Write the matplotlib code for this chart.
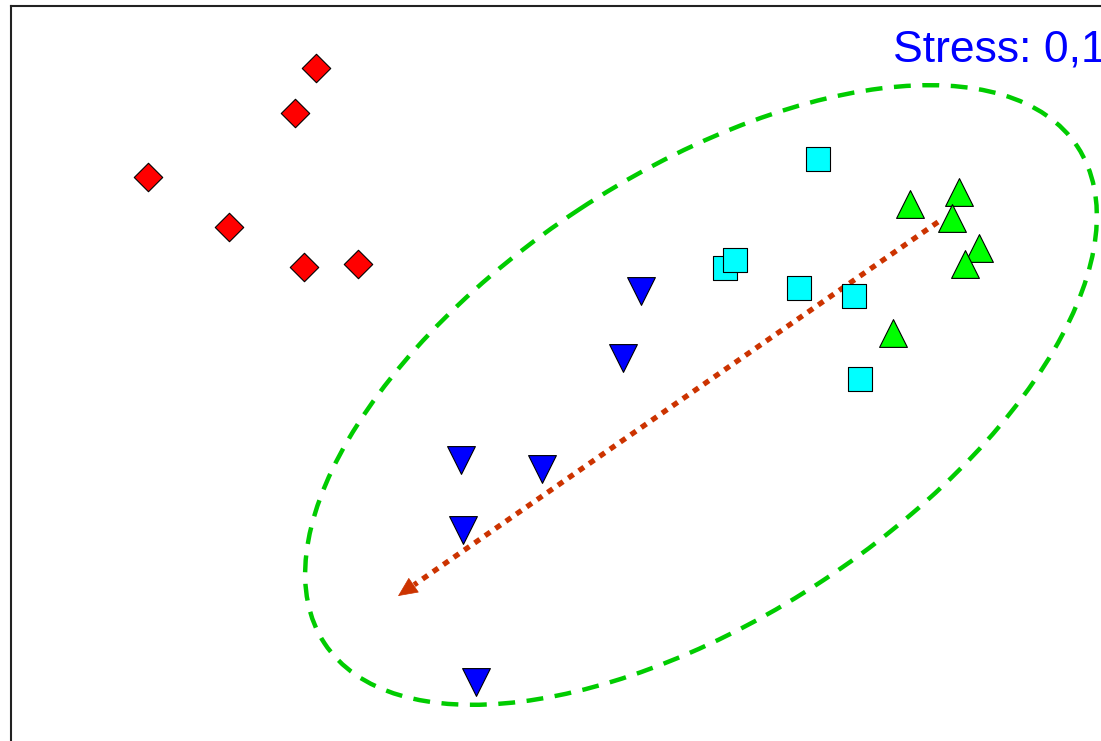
import matplotlib.pyplot as plt
from matplotlib.patches import Ellipse

# NMDS 좌표 (그림 픽셀 기준으로 읽은 값, y는 아래로 증가)
grp_red_x = [316, 295, 148, 229, 304, 358]
grp_red_y = [68, 113, 177, 227, 267, 264]

grp_cyan_x = [818, 725, 735, 799, 854, 860]
grp_cyan_y = [159, 268, 260, 288, 296, 379]

grp_green_x = [910, 959, 952, 979, 965, 893]
grp_green_y = [204, 192, 218, 248, 264, 333]

grp_blue_x = [641, 623, 461, 542, 463, 476]
grp_blue_y = [291, 358, 460, 469, 530, 682]

# 신뢰 타원 (중심, 장축, 단축, 각도)
ell_center = (701, 395)
ell_width = 902
ell_height = 444
ell_angle = -33.4

# 화살표 시작/끝
arrow_start = (938, 222)
arrow_end = (398, 596)

stress_label = 'Stress: 0,1'

W, H = 1101, 741
fig = plt.figure(figsize=(W / 100, H / 100), dpi=100)
# 오른쪽/아래 테두리는 그림 밖으로 잘리도록 배치
ax = fig.add_axes([10.5 / W, -0.02, 1.0, 1 - 6 / H + 0.02])
ax.set_xlim(10.5, 10.5 + W)
ax.set_ylim(741 + 0.02 * 741, 6)
ax.set_xticks([])
ax.set_yticks([])
for side in ['left', 'top']:
    ax.spines[side].set_linewidth(1.5)
    ax.spines[side].set_color('#222222')

ell = Ellipse(ell_center, ell_width, ell_height, angle=ell_angle, fill=False,
              edgecolor='#00CC00', linewidth=3.2, linestyle=(0, (3.8, 2.6)), zorder=1)
ax.add_patch(ell)

# 점선 부분
fx = arrow_end[0] + (arrow_start[0] - arrow_end[0]) * 0.03
fy = arrow_end[1] + (arrow_start[1] - arrow_end[1]) * 0.03
ax.plot([arrow_start[0], fx], [arrow_start[1], fy], color='#CC3300',
        linewidth=3.8, dashes=(1.2, 1.2), dash_capstyle='butt', zorder=2)
# 화살촉
ax.annotate('', xy=arrow_end, xytext=(fx, fy),
            arrowprops=dict(arrowstyle='-|>,head_length=1.3,head_width=0.6',
                            color='#CC3300', linewidth=0.5,
                            shrinkA=0, shrinkB=0), zorder=2)

ax.scatter(grp_red_x, grp_red_y, marker='D', s=14.5 ** 2, c='#FF0000',
           edgecolors='black', linewidths=0.8, zorder=3)
ax.scatter(grp_cyan_x, grp_cyan_y, marker='s', s=17.5 ** 2, c='#00FFFF',
           edgecolors='black', linewidths=0.8, zorder=3)
ax.scatter(grp_green_x, grp_green_y, marker='^', s=20 ** 2, c='#00FF00',
           edgecolors='black', linewidths=0.8, zorder=3)
ax.scatter(grp_blue_x, grp_blue_y, marker='v', s=20 ** 2, c='#0000FF',
           edgecolors='black', linewidths=0.8, zorder=3)

ax.text(893, 62, stress_label, color='#0000FF', fontsize=32,
        family='Liberation Sans', ha='left', va='baseline', clip_on=False)

fig.savefig('out.png', dpi=100)
